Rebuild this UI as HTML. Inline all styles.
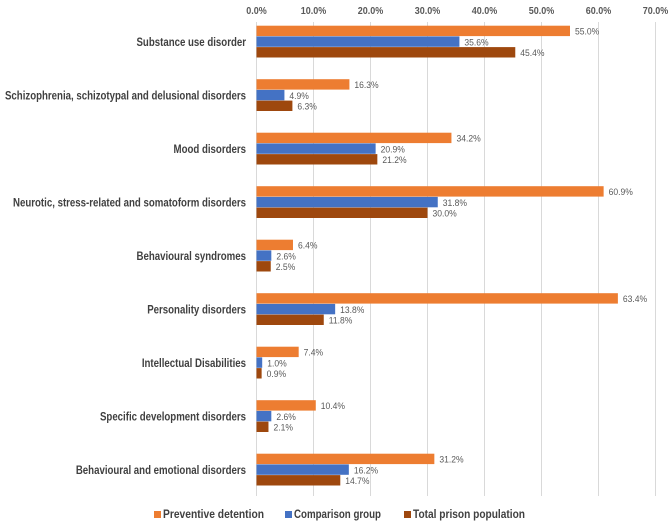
<!DOCTYPE html>
<html><head><meta charset="utf-8"><style>
body{margin:0;background:#fff;font-family:"Liberation Sans",sans-serif}
svg text{font-family:"Liberation Sans",sans-serif}
</style></head><body>
<svg id="c" width="669" height="524"></svg>
<script>
const categories=["Substance use disorder","Schizophrenia, schizotypal and delusional disorders","Mood disorders","Neurotic, stress-related and somatoform disorders","Behavioural syndromes","Personality disorders","Intellectual Disabilities","Specific development disorders","Behavioural and emotional disorders"];
const preventive=[55.0,16.3,34.2,60.9,6.4,63.4,7.4,10.4,31.2];
const comparison=[35.6,4.9,20.9,31.8,2.6,13.8,1.0,2.6,16.2];
const total=[45.4,6.3,21.2,30.0,2.5,11.8,0.9,2.1,14.7];
const ticks=[0,10,20,30,40,50,60,70];
const seriesNames=["Preventive detention","Comparison group","Total prison population"];
const colors=["#ED7D31","#4472C4","#9E480E"];
const NS="http://www.w3.org/2000/svg",svgEl=document.getElementById('c');
const x0=256.5,xs=5.7,plotTop=15,band=53.5,bh=10.7;
const xf=v=>x0+v*xs;
function mk(t,a,txt){const e=document.createElementNS(NS,t);for(const k in a)e.setAttribute(k,a[k]);if(txt!=null)e.textContent=txt;svgEl.appendChild(e);return e;}
function squeeze(e,f){const w=e.getComputedTextLength();e.setAttribute('textLength',w*f);e.setAttribute('lengthAdjust','spacingAndGlyphs');}
ticks.forEach(t=>{
 const l=mk('line',{x1:xf(t),x2:xf(t),y1:22,y2:496,stroke:'#d9d9d9','stroke-width':1});
 
 
 const tx=mk('text',{x:xf(t),y:14,'text-anchor':'middle','font-size':10,'font-weight':'bold',fill:'#595959'},t.toFixed(1)+'%');
 
 
 squeeze(tx,0.9);
});
const series=[preventive,comparison,total];
categories.forEach((c,i)=>{
 const cy=plotTop+band*(i+0.5);
 const lb=mk('text',{x:246,y:cy+4,'text-anchor':'end','font-size':11.5,'font-weight':'bold',fill:'#404040'},c);
 
 
 squeeze(lb,0.84);
 series.forEach((s,j)=>{
  const y=cy-1.5*bh+j*bh;
  const r=mk('rect',{x:x0,y:y,width:xf(s[i])-x0,height:bh-0.3,fill:colors[j]});
  
  
  const v=mk('text',{x:xf(s[i])+5,y:y+bh/2+3.5,'font-size':9.5,fill:'#595959'},s[i].toFixed(1)+'%');
  
  
  squeeze(v,0.9);
 });
});
const lx=[154,285,404];
const lw=[101,87,112];
seriesNames.forEach((n,j)=>{
 const r=mk('rect',{x:lx[j],y:511,width:7,height:7,fill:colors[j]});
 
 
 const t=mk('text',{x:lx[j]+9,y:518,'font-size':11.5,'font-weight':'bold',fill:'#404040',textLength:lw[j],lengthAdjust:'spacingAndGlyphs'},n);
 
 
});
</script>
</body></html>
